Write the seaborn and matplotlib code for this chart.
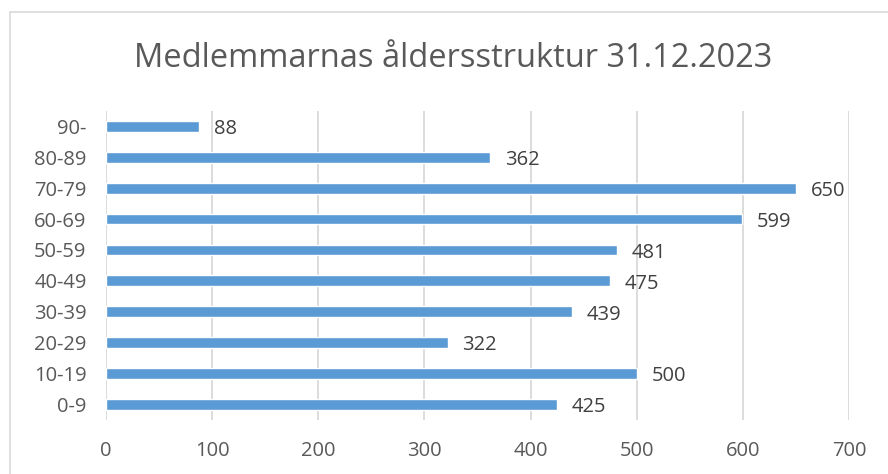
import pandas as pd
import matplotlib.pyplot as plt
import seaborn as sns
from matplotlib.lines import Line2D

age_groups = ["90-", "80-89", "70-79", "60-69", "50-59", "40-49", "30-39", "20-29", "10-19", "0-9"]
members = [88, 362, 650, 599, 481, 475, 439, 322, 500, 425]
x_ticks = [0, 100, 200, 300, 400, 500, 600, 700]

TEXT = "#595959"
BAR = "#5B9BD5"
GRID = "#D9D9D9"

sns.set_theme(style="white")
plt.rcParams['font.family'] = ['Open Sans', 'DejaVu Sans']

df = pd.DataFrame({"age": age_groups, "members": members})

fig = plt.figure(figsize=(8.88, 4.74), dpi=100)
ax = fig.add_axes([0.1194, 0.114, 0.8367, 0.652])

sns.barplot(data=df, x="members", y="age", order=age_groups, color=BAR,
            width=0.35, saturation=1, ax=ax)

ax.set_xlim(0, 700)
ax.set_ylim(len(age_groups) - 0.5, -0.5)
ax.set_xticks(x_ticks)
ax.xaxis.grid(True, color=GRID, linewidth=1.3)
ax.set_axisbelow(True)
for s in ax.spines.values():
    s.set_visible(False)
ax.tick_params(axis="both", length=0, labelsize=14.5, labelcolor=TEXT)
ax.tick_params(axis="x", pad=15)
ax.tick_params(axis="y", pad=14)
ax.set_xlabel("")
ax.set_ylabel("")

# data labels next to bars
for i, v in enumerate(members):
    ax.annotate(str(v), xy=(v, i), xytext=(10.5, -2), textcoords="offset points",
                ha="left", va="center", fontsize=14.5, color="#404040")

fig.text(0.51, 0.877, "Medlemmarnas åldersstruktur 31.12.2023", ha="center", va="center",
         fontsize=23.5, color=TEXT)

# chart border (left and top edges visible)
fig.add_artist(Line2D([10 / 888, 10 / 888], [0, 1 - 12 / 474], transform=fig.transFigure,
                      color=GRID, linewidth=1.2))
fig.add_artist(Line2D([10 / 888, 1], [1 - 12 / 474, 1 - 12 / 474], transform=fig.transFigure,
                      color=GRID, linewidth=1.2))

fig.savefig("out.png", dpi=100)
